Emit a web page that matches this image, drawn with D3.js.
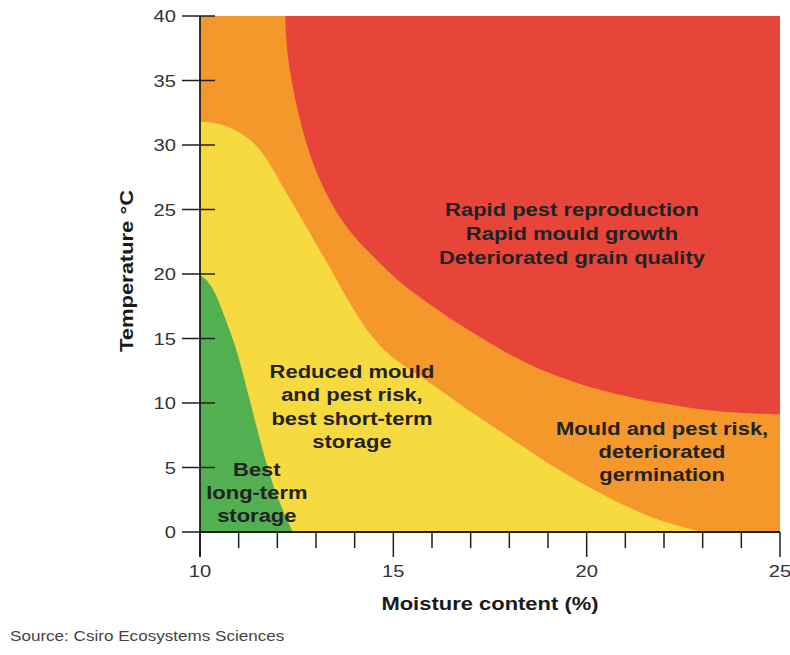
<!DOCTYPE html>
<html><head><meta charset="utf-8">
<script src="https://cdn.jsdelivr.net/npm/d3@7"></script>
<style>
html,body{margin:0;padding:0;background:#fff;}
svg{display:block;}
text{font-family:"Liberation Sans",Arial,Helvetica,sans-serif;}
</style></head>
<body>
<svg id="chart" width="790" height="655"></svg>
<script>
// ---- data (moisture %, temperature °C) ----
const xTicksMajor = [10, 15, 20, 25];
const xTicksMinor = [11, 12, 13, 14, 16, 17, 18, 19, 21, 22, 23, 24];
const yTicks = [0, 5, 10, 15, 20, 25, 30, 35, 40];

// red / orange boundary
const redBoundary = [
  [12.2, 40], [12.24, 37.5], [12.35, 35.2], [12.5, 33.0], [12.72, 30.3], [13.0, 27.9],
  [13.3, 26.0], [13.62, 24.3], [14.06, 22.6], [14.5, 21.3], [15.09, 19.5], [15.77, 18.0],
  [16.39, 16.7], [16.98, 15.6], [17.68, 14.3], [18.53, 12.9], [19.49, 11.8], [20.34, 11.0],
  [21.2, 10.4], [22.08, 9.9], [22.93, 9.5], [23.78, 9.25], [25, 9.1]
];
// yellow / orange boundary
const yellowBoundary = [
  [10, 31.8], [10.4, 31.75], [10.85, 31.3], [11.29, 30.5], [11.63, 29.4], [11.89, 28.1],
  [12.15, 26.7], [12.41, 25.4], [12.66, 24.1], [13.03, 22.2], [13.36, 20.5], [13.7, 18.6],
  [14.06, 16.8], [14.4, 15.3], [14.84, 13.8], [15.4, 12.6], [15.95, 11.6], [16.8, 9.7],
  [17.68, 8.0], [18.61, 6.1], [19.49, 4.4], [20.34, 3.0], [21.2, 1.7], [22.08, 0.7],
  [22.75, 0.15], [23.1, 0]
];
// green / yellow boundary
const greenBoundary = [
  [10, 19.9], [10.13, 19.7], [10.34, 18.9], [10.52, 17.6], [10.72, 16.0], [10.96, 14.1],
  [11.29, 10.2], [11.73, 5.0], [12.07, 2.1], [12.4, 0]
];

const redLabel = ["Rapid pest reproduction", "Rapid mould growth", "Deteriorated grain quality"];
const orangeLabel = ["Mould and pest risk,", "deteriorated", "germination"];
const yellowLabel = ["Reduced mould", "and pest risk,", "best short-term", "storage"];
const greenLabel = ["Best", "long-term", "storage"];
const labelAnchors = [[19.62, 24.5], [21.95, 7.52], [13.93, 11.94], [11.47, 4.34]];

// ---- drawing ----
const svg = d3.select("#chart");
const x = d3.scaleLinear().domain([10, 25]).range([200, 780]);
const y = d3.scaleLinear().domain([0, 40]).range([532, 16]);
const STRETCH = 1.22;

const colors = {red: "#e8453a", orange: "#f4982b", yellow: "#f6da3f", green: "#52b051"};

function stretch(sel) {
  sel.each(function () {
    const len = this.getComputedTextLength();
    d3.select(this).attr("textLength", len * STRETCH).attr("lengthAdjust", "spacingAndGlyphs");
  });
}

// background orange
svg.append("rect")
  .attr("x", x(10)).attr("y", y(40))
  .attr("width", x(25) - x(10)).attr("height", y(0) - y(40))
  .attr("fill", colors.orange);

const topArea = d3.area().x(d => x(d[0])).y0(d => y(d[1])).y1(y(40)).curve(d3.curveBasis);
const bottomArea = d3.area().x(d => x(d[0])).y0(y(0)).y1(d => y(d[1])).curve(d3.curveBasis);

svg.append("path").datum(redBoundary).attr("d", topArea).attr("fill", colors.red);
svg.append("path").datum(yellowBoundary).attr("d", bottomArea).attr("fill", colors.yellow);
svg.append("path").datum(greenBoundary).attr("d", bottomArea).attr("fill", colors.green);

// axes
const axisColor = "#1e1e1e";
svg.append("line").attr("x1", x(10)).attr("x2", x(10)).attr("y1", y(40)).attr("y2", y(0) + 25)
  .attr("stroke", axisColor).attr("stroke-width", 1.8);
svg.append("line").attr("x1", x(10)).attr("x2", x(25)).attr("y1", y(0)).attr("y2", y(0))
  .attr("stroke", axisColor).attr("stroke-width", 1.8);

// y ticks
svg.selectAll(".yt").data(yTicks).enter().append("line")
  .attr("x1", x(10) - 18).attr("x2", x(10) + 15)
  .attr("y1", d => y(d)).attr("y2", d => y(d))
  .attr("stroke", axisColor).attr("stroke-width", 1.5);
svg.selectAll(".yl").data(yTicks).enter().append("text")
  .attr("x", x(10) - 24).attr("y", d => y(d) + 6)
  .attr("text-anchor", "end").attr("font-size", 16.5).attr("fill", "#333")
  .text(d => d).call(stretch);

// x ticks
svg.selectAll(".xtm").data(xTicksMinor).enter().append("line")
  .attr("x1", d => x(d)).attr("x2", d => x(d))
  .attr("y1", y(0)).attr("y2", y(0) + 16)
  .attr("stroke", axisColor).attr("stroke-width", 1.5);
svg.selectAll(".xtM").data(xTicksMajor).enter().append("line")
  .attr("x1", d => x(d)).attr("x2", d => x(d))
  .attr("y1", y(0)).attr("y2", y(0) + 25)
  .attr("stroke", axisColor).attr("stroke-width", 1.5);
svg.selectAll(".xl").data(xTicksMajor).enter().append("text")
  .attr("x", d => x(d)).attr("y", 577)
  .attr("text-anchor", "middle").attr("font-size", 16.5).attr("fill", "#333")
  .text(d => d).call(stretch);

// axis titles
svg.append("text").attr("x", 490).attr("y", 610).attr("text-anchor", "middle")
  .attr("font-size", 18).attr("font-weight", "bold").attr("fill", "#1a1a1a")
  .text("Moisture content (%)").call(stretch);
svg.append("text").attr("transform", "translate(133,271) rotate(-90)").attr("text-anchor", "middle")
  .attr("font-size", 18).attr("font-weight", "bold").attr("fill", "#1a1a1a")
  .text("Temperature °C").call(stretch);

// region labels
const labels = [[redLabel, 24], [orangeLabel, 23], [yellowLabel, 23.5], [greenLabel, 23]];
labels.forEach(([lines, lh], i) => {
  const [m, t] = labelAnchors[i];
  lines.forEach((line, j) => {
    svg.append("text").attr("x", x(m)).attr("y", y(t) + j * lh)
      .attr("text-anchor", "middle").attr("font-size", 18).attr("font-weight", "bold")
      .attr("fill", "#222").text(line).call(stretch);
  });
});

// source
svg.append("text").attr("x", 10).attr("y", 641).attr("font-size", 14).attr("fill", "#444")
  .text("Source: Csiro Ecosystems Sciences").call(stretch);
</script>
</body></html>
